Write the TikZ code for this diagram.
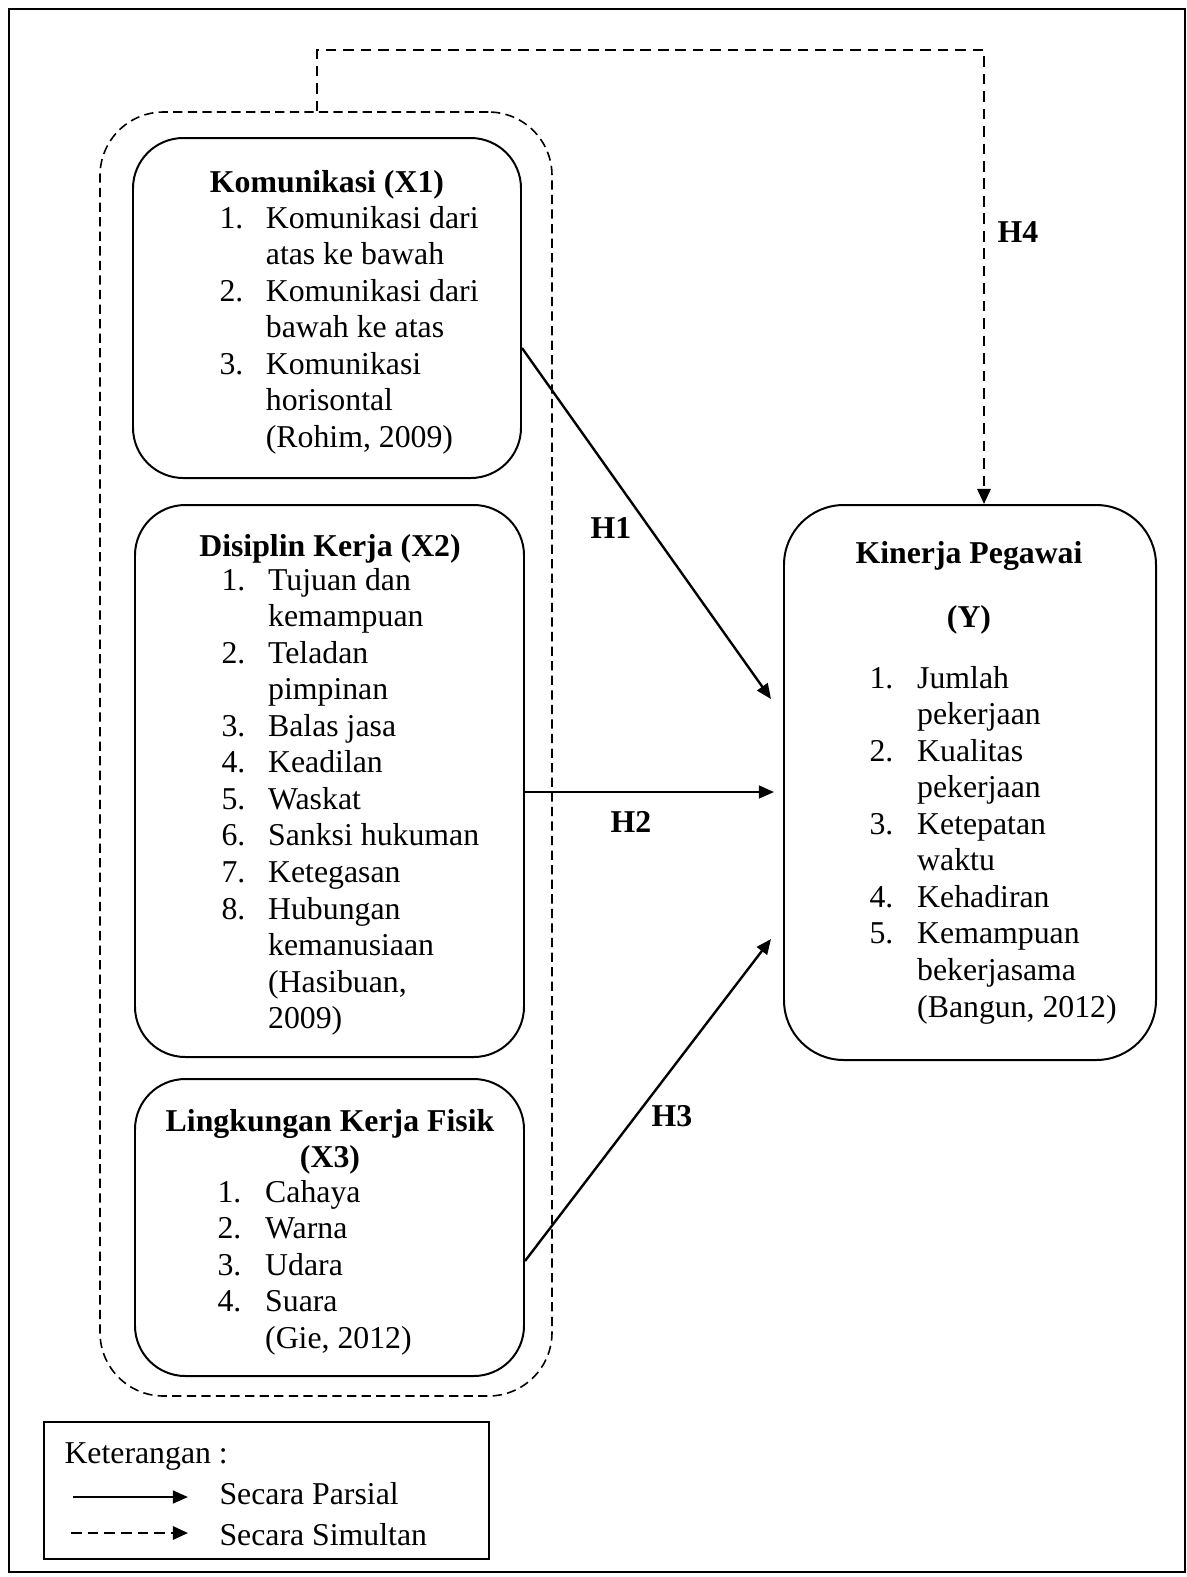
\documentclass[tikz,border=0pt]{standalone}
\usepackage{fontspec}
\setmainfont{Liberation Serif}
\usetikzlibrary{calc,arrows.meta}
\def\pxu{0.3775pt}

\begin{document}
\begin{tikzpicture}[x=\pxu,y=-\pxu,
		vbox/.style={rectangle,draw,rounded corners=19pt,line width=0.75pt,inner sep=0pt},
		vtitle/.style={anchor=base,inner sep=0pt,font=\fontsize{12}{13.8}\selectfont\bfseries},
		vlist/.style={anchor=base west,inner sep=0pt,font=\fontsize{12}{13.8}\selectfont},
		parsial/.style={-{Triangle[length=5.7pt,width=4.8pt]},line width=0.9pt},
		simultan/.style={-{Triangle[length=5.7pt,width=5pt]},line width=0.9pt,dash pattern=on 4pt off 2.6pt}]
		\useasboundingbox (0,0) rectangle (1187,1577);
		\draw[line width=1.1pt] (9,9) rectangle (1185,1572);

		\draw (326,754) node (grp) [rectangle,draw,rounded corners=24pt,line width=0.6pt,dash pattern=on 3.5pt off 2pt,inner sep=0pt,minimum width=452*\pxu,minimum height=1284*\pxu] {};

		\draw (327,308) node (x1) [vbox,minimum width=388*\pxu,minimum height=340*\pxu] {};
		\draw (329.5,781) node (x2) [vbox,minimum width=389*\pxu,minimum height=552*\pxu] {};
		\draw (329.5,1227.5) node (x3) [vbox,minimum width=389*\pxu,minimum height=297*\pxu] {};
		\draw (970,782.5) node (yk) [vbox,rounded corners=22.6pt,minimum width=372*\pxu,minimum height=555*\pxu] {};

		\draw (327,192) node (x1t) [vtitle] {Komunikasi (X1)};
		\draw (219,228) node (x1l) [vlist] {\begin{tabular}[t]{@{}p{17.5pt}@{}l@{}}
			1. & Komunikasi dari\\ & atas ke bawah\\
			2. & Komunikasi dari\\ & bawah ke atas\\
			3. & Komunikasi\\ & horisontal\\ & (Rohim, 2009)
		\end{tabular}};

		\draw (330,556) node (x2t) [vtitle] {Disiplin Kerja (X2)};
		\draw (221,590) node (x2l) [vlist] {\begin{tabular}[t]{@{}p{17.6pt}@{}l@{}}
			1. & Tujuan dan\\ & kemampuan\\
			2. & Teladan\\ & pimpinan\\
			3. & Balas jasa\\
			4. & Keadilan\\
			5. & Waskat\\
			6. & Sanksi hukuman\\
			7. & Ketegasan\\
			8. & Hubungan\\ & kemanusiaan\\ & (Hasibuan,\\ & 2009)
		\end{tabular}};

		\draw (330,1131) node (x3t) [vtitle] {Lingkungan Kerja Fisik};
		\draw (330,1167) node (x3u) [vtitle] {(X3)};
		\draw (217,1202) node (x3l) [vlist] {\begin{tabular}[t]{@{}p{18pt}@{}l@{}}
			1. & Cahaya\\
			2. & Warna\\
			3. & Udara\\
			4. & Suara\\ & (Gie, 2012)
		\end{tabular}};

		\draw (969,563) node (ykt) [vtitle] {Kinerja Pegawai};
		\draw (969,627) node (yku) [vtitle] {(Y)};
		\draw (869,688) node (ykl) [vlist] {\begin{tabular}[t]{@{}p{18pt}@{}l@{}}
			1. & Jumlah\\ & pekerjaan\\
			2. & Kualitas\\ & pekerjaan\\
			3. & Ketepatan\\ & waktu\\
			4. & Kehadiran\\
			5. & Kemampuan\\ & bekerjasama\\ & (Bangun, 2012)
		\end{tabular}};

		\coordinate (h1a) at ($(x1.east)+(0,40)$);
		\coordinate (h1b) at ($(yk.west)+(-12,-83.5)$);
		\coordinate (h2a) at ($(x2.east)+(0,11)$);
		\coordinate (h2b) at ($(yk.west)+(-9,9.5)$);
		\coordinate (h3a) at ($(x3.east)+(0,33.5)$);
		\coordinate (h3b) at ($(yk.west)+(-12,156.5)$);
		\draw[parsial] (h1a) to (h1b);
		\draw[parsial] (h2a) to (h2b);
		\draw[parsial] (h3a) to (h3b);

		\coordinate (s1) at (317,50);
		\coordinate (s2) at (984,50);
		\draw[simultan] (grp.north -| s1) -- (s1) -- (s2) -- (s2 |- yk.north);

		\draw (611,538) node (h1) [vtitle] {H1};
		\draw (631,832) node (h2) [vtitle] {H2};
		\draw (672,1126) node (h3) [vtitle] {H3};
		\draw (1018,242) node (h4) [vtitle] {H4};

		\draw (266.5,1490.5) node (leg) [rectangle,draw,line width=0.75pt,inner sep=0pt,minimum width=445*\pxu,minimum height=137*\pxu] {};
		\draw (64,1463) node (ket) [vlist] {Keterangan :};
		\coordinate (p1) at (73,1497);
		\coordinate (p2) at (188,1497);
		\draw[parsial] (p1) to (p2);
		\draw (219,1504) node (par) [vlist] {Secara Parsial};
		\coordinate (q1) at (71,1533);
		\coordinate (q2) at (188,1533);
		\draw[simultan,dash pattern=on 4pt off 2.3pt] (q1) to (q2);
		\draw (219,1545) node (sim) [vlist] {Secara Simultan};
	\end{tikzpicture}
\end{document}
